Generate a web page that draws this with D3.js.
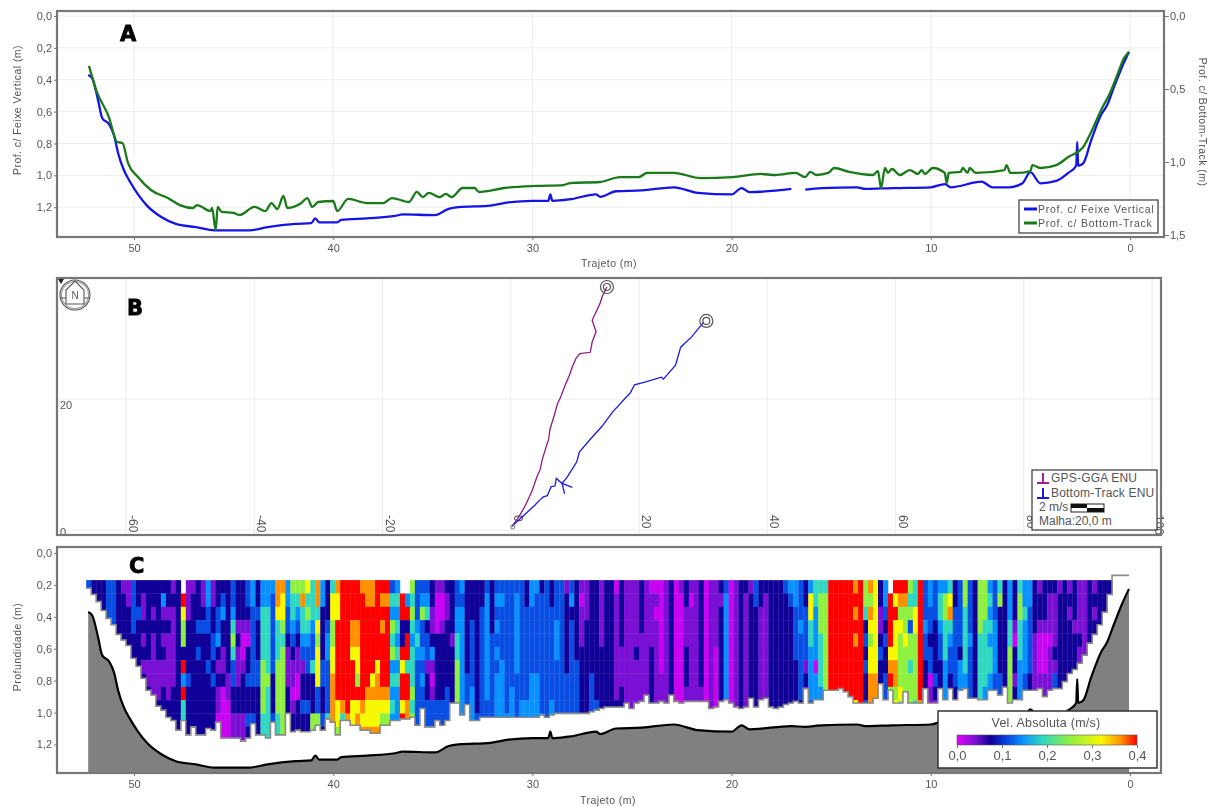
<!DOCTYPE html>
<html>
  <head>
    <meta charset="utf-8" />
    <script src="https://d3js.org/d3.v7.min.js"></script>
    <style>
      body { margin: 0; background: #fff; }
      svg { display: block; filter: blur(0.7px); }
      text { font-family: "Liberation Sans", Arial, sans-serif; fill: #555; }
      .letter { font-family: "DejaVu Sans", sans-serif; font-weight: bold; fill: #000; stroke: #000; stroke-width: 0.8px; }
    </style>
  </head>
  <body>
    <svg id="chart" width="1211" height="812"></svg>
    <script>
      // distance along the section (m), vertical beam depth (m); null = gap in the record
      var beamDist = [52.3,52.1,51.8,51.6,51.25,51.0,50.8,50.5,50.2,49.8,49.35,48.65,47.9,46.9,45.95,44.2,43.3,41.9,41.1,40.9,40.7,39.8,39.6,38.3,36.9,36.5,34.9,34.2,33.7,32.1,31.2,30.0,29.2,29.1,29.0,28.1,26.8,26.6,25.8,24.5,22.9,21.7,20.0,19.5,19.1,17.0,16.6,16.3,15.5,13.7,13.3,11.95,10.0,9.3,9.0,7.45,6.9,6.05,5.4,5.0,4.5,3.7,3.1,2.7,2.65,2.6,2.35,1.95,1.45,1.15,0.8,0.4,0.05];
      var beamDepth = [0.37,0.39,0.53,0.64,0.68,0.75,0.86,0.97,1.04,1.12,1.19,1.26,1.305,1.325,1.345,1.345,1.325,1.305,1.30,1.27,1.295,1.295,1.28,1.27,1.255,1.245,1.25,1.21,1.20,1.19,1.17,1.16,1.16,1.12,1.16,1.15,1.12,1.135,1.10,1.095,1.075,1.11,1.12,1.08,1.105,1.085,null,1.09,1.08,1.075,1.085,1.08,1.075,1.055,1.075,1.04,1.075,1.075,1.05,0.98,1.05,1.035,0.985,0.94,0.79,0.94,0.925,0.78,0.62,0.56,0.445,0.32,0.225];

      // bottom-track depth, read on the right axis
      var trackDist = [52.26,51.9,51.26,50.85,50.58,50.3,49.8,49.15,48.3,47.7,47.04,46.84,46.16,46.08,45.9,45.8,45.6,45.0,44.7,43.95,43.4,43.1,42.8,42.5,42.3,41.6,41.3,41.05,40.75,40.0,39.8,39.25,38.3,37.5,37.05,36.2,35.8,35.5,35.2,34.65,34.35,34.05,33.5,32.9,32.7,31.4,29.8,28.45,28.1,26.6,25.6,24.65,24.25,22.9,21.55,19.95,18.55,17.8,16.8,16.3,16.05,15.75,15.15,14.85,14.1,12.9,12.65,12.5,12.3,12.15,11.95,11.55,11.05,10.65,10.45,10.3,9.9,9.3,9.2,9.1,8.5,8.4,8.15,8.05,7.75,6.3,6.2,6.0,5.7,5.0,4.9,4.5,3.7,3.1,2.35,1.95,1.45,1.0,0.6,0.3,0.05];
      var trackDepth = [0.342,0.507,0.692,0.863,0.87,1.007,1.103,1.192,1.247,1.295,1.315,1.295,1.336,1.315,1.466,1.308,1.342,1.349,1.363,1.308,1.336,1.281,1.322,1.233,1.315,1.281,1.247,1.308,1.274,1.267,1.336,1.253,1.281,1.281,1.247,1.274,1.205,1.24,1.212,1.24,1.219,1.24,1.178,1.178,1.205,1.178,1.164,1.158,1.144,1.137,1.103,1.103,1.075,1.075,1.11,1.103,1.082,1.089,1.075,1.103,1.068,1.089,1.075,1.041,1.068,1.089,1.062,1.178,1.041,1.075,1.048,1.089,1.055,1.082,1.055,1.082,1.041,1.075,1.144,1.075,1.068,1.041,1.075,1.041,1.075,1.055,1.021,1.075,1.075,1.062,1.021,1.041,1.021,0.966,0.897,0.795,0.644,0.527,0.39,0.288,0.247];

      // plan view tracks, east / north (m)
      var gpsEast = [0.2,1.2,2.2,3.3,4.1,4.6,4.9,5.7,5.9,6.1,6.8,7.3,7.7,8.5,9.1,9.6,10.2,10.8,12.4,12.7,13.3,12.7,13.3,13.9,14.3,15];
      var gpsNorth = [0.1,1.5,3.2,5.6,7.9,9.0,10.5,13.1,13.6,15.2,17.5,19.3,20.1,22.2,23.6,25,26.4,27.1,27.3,28.9,30.5,32.3,33.6,34.9,36.1,37.5];
      var btEast = [0.2,1.8,3.75,4.5,5.1,5.7,6.3,6.9,7.1,8,9.6,8,8.4,8,7.4,8,8.8,10.3,10.7,12.3,14.2,15.9,18.1,18.6,19.3,21.2,23.5,23.8,25.7,26.5,28.2,30.1];
      var btNorth = [0.1,1.6,3.4,4.2,4.7,4.9,6.3,6.4,7.6,6.8,6.2,6.8,5.2,6.8,7.3,6.8,7.8,10.2,11.7,13.6,15.7,18,20.4,20.9,22.2,22.7,23.4,23.1,25.3,28.1,29.7,32];

      // colour key
      var velStops = [0,0.04,0.075,0.105,0.145,0.19,0.25,0.32,0.365,0.4];
      var colorStops = ["#e800ff","#7a10d4","#100098","#0838d8","#0890ff","#30d8c0","#90f040","#f8f800","#ff9000","#ff0000"];

      // velocity classes used in heatColumns below (digit = index), x = no data
      var velClass = [0.012,0.04,0.075,0.115,0.145,0.19,0.25,0.32,0.365,0.4];

      // one string per ensemble, top cell first; last digit carries down to the bottom
      var heatColumns = [
        "3","22","222","2222","33333","333333","2222222","12222222","11222222","333322222",
        "223222222","2112121222","2222221122","2212111111","2222221112","2412121122","2212111112","1211111122","222222222222","x9766294955",
        "111222232222","122222222222","222323222222","112322222222","443322322222","112233232222","223342121101","234221120000","222222211000","334565332211",
        "222121112211","222100122211","332102232232","443333332232","223222332222","445555666655","445555565555","433333322232","887555666655","877656666666",
        "443321112222","655432110122","654321100222","685543122322","756543322322","555433522266","885767773366","442222332232","222344333355","577667788888",
        "877999999776","999999999859",
        "999999999989","999887999777","999887769787","899999999878","889999998778","889999978778","999999788778","989899998766",
        "989999998766","354656454544","454545454444","x99229799794","x49299599888","656545556565","333454333334","346334343333","345233122333","221124101333",
        "100022222333","100122222333","211222223332","222212222233","334455666665","434444444445","222222233344","222333334444",
        "222222222233","223333333333","344444444333","222233333333","343434344444","343333444443","333333333343","333333334444","344444433333","333333333444",
        "223333333444","443333344444","433333344444","233333333344","333333333333","223333333444","333444333333","333333333333","122222233333","342333333344",
        "222222333333","101112222233","111222222233","222222233333","222222222322","111112222222",
        "222222222222","222222222222","011111111222","222221112222","111111111111","111111111122","111112111111","222211111111","111111111111","011112222222",
        "010111111111","000000011111","111111111111","222222222212","000000000000","100000000010","221112221111","101111111111","111111111122","222222221111",
        "000000000000","111111111111","111110000000","212222222211","344444444444","000000000001","111111111111","222222222222","211111111122","122222222111",
        "332222222222","221111111111","211111111221","222222222222","222222222222","222222222222","322222222222","432222222222","443333222222","333433333221",
        "223333121112","477554444334","554444044433","566655554444","566666666554","999999999999","999999999999","999999999999","999999999999","999999999999",
        "898989999778","999999999999",
        "665232322332","868767788888","777777788888","221123222233","443232233332","x99997896677","979777886777","986766667677","986676666677","656366566644",
        "557766666544","999999999888","333433222234","443323301112","333222232122","455433222123","466555444332","578543322211","223333332211","333332444222",
        "665555544443","333343333222","222222222221","666655555444","666555554444","454545544433","333444433322","562222233322","222222222211","444556666655",
        "222102212222","566555444322","445444433322","443333322221","222211111112","122100011111","222100011122","211101111112","211112133221","122222222222",
        "222222222222","121222222","222122222","111121","11111","22222","1212","222","22","2"
      ];

      // lower limit of each ensemble (m)
      var heatBottoms = [
        0.22,0.26,0.305,0.36,0.41,0.45,0.51,0.545,0.58,0.66,
        0.71,0.785,0.86,0.89,0.96,0.985,1.03,1.05,1.11,1.05,
        1.14,1.09,1.14,1.14,1.10,1.11,1.06,1.16,1.16,1.16,
        1.16,1.18,1.16,1.07,1.14,1.14,1.16,1.06,1.14,1.14,
        1.005,1.12,1.11,1.12,1.12,1.11,1.08,1.11,1.04,1.06,
        1.14,1.05,
        1.05,1.08,1.08,1.11,1.11,1.13,1.13,1.08,
        1.08,1.05,1.05,1.04,1.04,1.03,1.08,0.975,1.09,1.09,
        1.05,1.08,1.05,0.94,0.94,1.015,0.95,1.05,
        1.05,1.03,1.03,1.03,1.03,1.03,1.03,1.03,1.03,1.03,
        1.03,1.03,1.03,1.015,1.03,1.015,1.005,1.005,1.005,1.005,
        1.005,1.005,1.005,0.995,0.985,0.975,
        0.965,0.965,0.965,0.965,0.94,0.975,0.94,0.93,0.89,0.94,
        0.94,0.93,0.94,0.89,0.93,0.94,0.93,0.93,0.93,0.93,
        0.93,0.975,0.965,0.93,0.92,0.94,0.965,0.975,0.965,0.91,
        0.965,0.92,0.91,0.965,0.975,0.965,0.95,0.94,0.93,0.94,
        0.85,0.94,0.92,0.92,0.86,0.86,0.86,0.85,0.87,0.90,
        0.94,0.94,
        0.94,0.94,0.91,0.82,0.92,0.86,0.94,0.94,0.87,0.94,
        0.94,0.94,0.85,0.94,0.94,0.85,0.92,0.85,0.92,0.86,
        0.85,0.91,0.91,0.92,0.92,0.86,0.86,0.89,0.84,0.94,
        0.92,0.92,0.86,0.86,0.86,0.85,0.90,0.86,0.85,0.85,
        0.806,0.755,0.73,0.69,0.64,0.565,0.51,0.45,0.37,0.26
      ];

      var distTicks = [50,40,30,20,10,0];
      var leftDepthTicks = [0,0.2,0.4,0.6,0.8,1.0,1.2];
      var rightDepthTicks = [0,0.5,1.0,1.5];
      var planXTicks = [-60,-40,-20,0,20,40,60,80,100];
      var velTicks = [0,0.1,0.2,0.3,0.4];

      var commaFmt = (d) => d3.format(".1f")(d).replace(".", ",");
      var svg = d3.select("#chart");

      var x = d3.scaleLinear().domain([0, 50]).range([1130, 134]);
      var gridColor = "#ececec", borderColor = "#777";

      var velColor = d3.scaleLinear().domain(velStops).range(colorStops);

      function styleAxis(g) {
        g.select(".domain").remove();
        g.selectAll("line").attr("stroke", "#777");
        g.selectAll("text").attr("font-size", 11).attr("fill", "#555");
      }

      function frame(x0, y0, x1, y1) {
        svg.append("rect")
          .attr("x", x0).attr("y", y0)
          .attr("width", x1 - x0).attr("height", y1 - y0)
          .attr("fill", "none")
          .attr("stroke", borderColor)
          .attr("stroke-width", 2.2);
      }

      function axisTitle(label, px, py, rot) {
        svg.append("text")
          .attr("transform", "translate(" + px + "," + py + ") rotate(" + rot + ")")
          .attr("text-anchor", "middle")
          .attr("font-size", 10.5)
          .attr("letter-spacing", 0.45)
          .text(label);
      }

      function letter(label, px, py) {
        svg.append("text").attr("class", "letter")
          .attr("x", px).attr("y", py)
          .attr("font-size", 21)
          .text(label);
      }

      // ---------- A: depth profiles ----------
      var yA = d3.scaleLinear().domain([0, 1.387]).range([16, 237]);
      var yA2 = d3.scaleLinear().domain([0, 1.5]).range([16, 235]);

      var gridA = svg.append("g").attr("stroke", gridColor);
      gridA.selectAll(".v").data(distTicks).enter().append("line")
        .attr("x1", (d) => x(d)).attr("x2", (d) => x(d)).attr("y1", 12).attr("y2", 237);
      gridA.selectAll(".h").data(leftDepthTicks).enter().append("line")
        .attr("x1", 57).attr("x2", 1164).attr("y1", (d) => yA(d)).attr("y2", (d) => yA(d));

      var beamPts = beamDist.map((d, i) => ({ dist: d, depth: beamDepth[i] }));
      var trackPts = trackDist.map((d, i) => ({ dist: d, depth: trackDepth[i] }));

      var beamLine = d3.line().defined((d) => d.depth != null).curve(d3.curveMonotoneX)
        .x((d) => x(d.dist)).y((d) => yA(d.depth));
      var trackLine = d3.line().curve(d3.curveMonotoneX).x((d) => x(d.dist)).y((d) => yA2(d.depth));

      svg.append("path").datum(beamPts).attr("d", beamLine)
        .attr("fill", "none").attr("stroke", "#1414e6").attr("stroke-width", 2.3);
      svg.append("path").datum(trackPts).attr("d", trackLine)
        .attr("fill", "none").attr("stroke", "#1a7a1a").attr("stroke-width", 2.3);

      frame(57, 11, 1164, 237);

      svg.append("g").attr("transform", "translate(0,237)")
        .call(d3.axisBottom(x).tickValues(distTicks).tickFormat(d3.format("d")).tickSize(3).tickPadding(4))
        .call(styleAxis);
      svg.append("g").attr("transform", "translate(57,0)")
        .call(d3.axisLeft(yA).tickValues(leftDepthTicks).tickFormat(commaFmt).tickSize(3).tickPadding(2))
        .call(styleAxis);
      svg.append("g").attr("transform", "translate(1165,0)")
        .call(d3.axisRight(yA2).tickValues(rightDepthTicks).tickFormat(commaFmt).tickSize(4).tickPadding(1))
        .call(styleAxis);

      axisTitle("Trajeto (m)", 609, 267, 0);
      axisTitle("Prof. c/ Feixe Vertical (m)", 21, 110, -90);
      axisTitle("Prof. c/ Bottom-Track (m)", 1199, 122, 90);
      letter("A", 120, 41);

      var legA = svg.append("g");
      legA.append("rect").attr("x", 1019).attr("y", 200).attr("width", 139).attr("height", 33)
        .attr("fill", "#fff").attr("stroke", "#555").attr("stroke-width", 1.4);
      [["Prof. c/ Feixe Vertical", "#1414e6", 209], ["Prof. c/ Bottom-Track", "#1a7a1a", 223]].forEach((r) => {
        legA.append("line").attr("x1", 1024).attr("x2", 1037).attr("y1", r[2]).attr("y2", r[2])
          .attr("stroke", r[1]).attr("stroke-width", 3);
        legA.append("text").attr("x", 1038).attr("y", r[2] + 4)
          .attr("font-size", 10.5).attr("letter-spacing", 0.75).text(r[0]);
      });

      // ---------- B: plan view ----------
      var xB = d3.scaleLinear().domain([-60, 100]).range([126, 1152]);
      var yB = d3.scaleLinear().domain([0, 20]).range([527, 399]);

      var gridB = svg.append("g").attr("stroke", gridColor);
      gridB.selectAll(".v").data(planXTicks).enter().append("line")
        .attr("x1", (d) => xB(d)).attr("x2", (d) => xB(d)).attr("y1", 279).attr("y2", 535);
      gridB.append("line").attr("x1", 57).attr("x2", 1161).attr("y1", yB(20)).attr("y2", yB(20));
      gridB.append("line").attr("x1", 57).attr("x2", 1161).attr("y1", yB(0) + 3).attr("y2", yB(0) + 3);

      svg.selectAll(".planx").data(planXTicks).enter().append("text")
        .attr("transform", (d) => "translate(" + (xB(d) + 3) + ",515) rotate(90)")
        .attr("font-size", 12).attr("fill", "#666")
        .text((d) => d);
      svg.append("text").attr("x", 60).attr("y", 409).attr("font-size", 11).text("20");
      svg.append("text").attr("x", 60).attr("y", 536).attr("font-size", 11).text("0");

      var planLine = d3.line().x((d) => xB(d[0])).y((d) => yB(d[1]));
      svg.append("path").datum(gpsEast.map((d, i) => [d, gpsNorth[i]])).attr("d", planLine)
        .attr("fill", "none").attr("stroke", "#8e1a86").attr("stroke-width", 1.3);
      svg.append("path").datum(btEast.map((d, i) => [d, btNorth[i]])).attr("d", planLine)
        .attr("fill", "none").attr("stroke", "#1a1ae0").attr("stroke-width", 1.3);

      // start / end markers of the two tracks
      [[gpsEast[gpsEast.length - 1], gpsNorth[gpsNorth.length - 1]], [btEast[btEast.length - 1] + 0.4, btNorth[btNorth.length - 1] + 0.2]].forEach((p) => {
        [6.5, 3.5].forEach((r) => {
          svg.append("circle").attr("cx", xB(p[0])).attr("cy", yB(p[1])).attr("r", r)
            .attr("fill", "none").attr("stroke", "#555").attr("stroke-width", 1.2);
        });
      });
      svg.append("circle").attr("cx", xB(0) + 2).attr("cy", yB(0)).attr("r", 2)
        .attr("fill", "none").attr("stroke", "#777");

      frame(57, 278, 1161, 535);
      letter("B", 127, 315);

      // north arrow
      var north = svg.append("g").attr("transform", "translate(75,295)")
        .attr("fill", "none").attr("stroke", "#555").attr("stroke-width", 1.1);
      north.append("circle").attr("r", 15);
      north.append("circle").attr("r", 13.5).attr("stroke", "#999");
      north.append("path").attr("d", "M0,-14 L9,-5 V3 H15 M0,-14 L-9,-5 V3 H-15 M-9,3 V9 H9 V3");
      north.append("text").attr("y", 4).attr("text-anchor", "middle")
        .attr("font-size", 10).attr("stroke", "none").attr("fill", "#444").text("N");
      svg.append("path").attr("d", "M58,279 h6 l-3,5 z").attr("fill", "#222");

      var legB = svg.append("g");
      legB.append("rect").attr("x", 1032).attr("y", 470).attr("width", 125).attr("height", 60)
        .attr("fill", "#fff").attr("stroke", "#444").attr("stroke-width", 1.3);
      [["GPS-GGA ENU", "#a0209a", 482], ["Bottom-Track ENU", "#1a1ae0", 497]].forEach((r) => {
        legB.append("path")
          .attr("d", "M1043," + (r[2] - 9) + " V" + (r[2] + 2) + " M1037," + (r[2] + 1) + " H1049")
          .attr("stroke", r[1]).attr("stroke-width", 2).attr("fill", "none");
        legB.append("text").attr("x", 1051).attr("y", r[2]).attr("font-size", 12)
          .attr("letter-spacing", 0.2).text(r[0]);
      });
      legB.append("text").attr("x", 1039).attr("y", 511).attr("font-size", 12).text("2 m/s");
      legB.append("rect").attr("x", 1071).attr("y", 504).attr("width", 33).attr("height", 8)
        .attr("fill", "#fff").attr("stroke", "#222");
      legB.append("rect").attr("x", 1071).attr("y", 504).attr("width", 16).attr("height", 4).attr("fill", "#111");
      legB.append("rect").attr("x", 1087).attr("y", 508).attr("width", 17).attr("height", 4).attr("fill", "#111");
      legB.append("text").attr("x", 1039).attr("y", 525).attr("font-size", 12).text("Malha:20,0 m");

      // ---------- C: velocity section ----------
      var yC = d3.scaleLinear().domain([0, 1.379]).range([553, 773]);
      var rowTop = 0.17, rowH = 0.0836, colW = 0.25, firstDist = 52.4;
      var rowCount = 12;

      var cells = [];
      heatColumns.forEach((s, i) => {
        var bottom = heatBottoms[i];
        d3.range(rowCount).forEach((r) => {
          var top = rowTop + r * rowH;
          if (top >= bottom) return;
          var ch = s[Math.min(r, s.length - 1)];
          if (ch === "x") return;
          cells.push({
            dist: firstDist - i * colW,
            top: top,
            bottom: Math.min(top + rowH, bottom),
            vel: velClass[+ch],
          });
        });
      });

      var groundPts = beamPts.filter((d) => d.depth != null);
      var ground = d3.area().curve(d3.curveMonotoneX).x((d) => x(d.dist)).y0(772).y1((d) => yC(d.depth));
      svg.append("path").datum(groundPts).attr("d", ground).attr("fill", "#808080");
      svg.append("path").datum(groundPts)
        .attr("d", d3.line().curve(d3.curveMonotoneX).x((d) => x(d.dist)).y((d) => yC(d.depth)))
        .attr("fill", "none").attr("stroke", "#000").attr("stroke-width", 2.2);

      svg.append("g").selectAll("rect").data(cells).enter().append("rect")
        .attr("x", (d) => x(d.dist))
        .attr("y", (d) => yC(d.top))
        .attr("width", x(0) - x(colW) + 0.3)
        .attr("height", (d) => yC(d.bottom) - yC(d.top) + 0.3)
        .attr("fill", (d) => velColor(d.vel));

      // grey limit of the valid cells, closed by the small cap at the right bank
      var limitPts = heatBottoms.map((b, i) => [firstDist - i * colW, b]);
      limitPts.push([firstDist - heatBottoms.length * colW, 0.26]);
      limitPts.push([firstDist - heatBottoms.length * colW, 0.14]);
      limitPts.push([0.05, 0.14]);
      svg.append("path").datum(limitPts)
        .attr("d", d3.line().curve(d3.curveStepAfter).x((d) => x(d[0])).y((d) => yC(d[1])))
        .attr("fill", "none").attr("stroke", "#8a8a8a").attr("stroke-width", 1.6);

      frame(57, 547, 1161, 773);

      svg.append("g").attr("transform", "translate(0,773)")
        .call(d3.axisBottom(x).tickValues(distTicks).tickFormat(d3.format("d")).tickSize(3).tickPadding(4))
        .call(styleAxis);
      svg.append("g").attr("transform", "translate(57,0)")
        .call(d3.axisLeft(yC).tickValues(leftDepthTicks).tickFormat(commaFmt).tickSize(3).tickPadding(2))
        .call(styleAxis);

      axisTitle("Trajeto (m)", 608, 804, 0);
      axisTitle("Profundidade (m)", 21, 647, -90);
      letter("C", 129, 573);

      // colour legend
      var legC = svg.append("g");
      legC.append("rect").attr("x", 938).attr("y", 711).attr("width", 219).attr("height", 57)
        .attr("fill", "#fff").attr("stroke", "#333").attr("stroke-width", 1.5);
      legC.append("text").attr("x", 1046).attr("y", 727).attr("text-anchor", "middle")
        .attr("font-size", 12.5).attr("letter-spacing", 0.25).text("Vel. Absoluta (m/s)");

      var velX = d3.scaleLinear().domain([0, 0.4]).range([957, 1137]);
      var grad = svg.append("defs").append("linearGradient").attr("id", "velGrad");
      grad.selectAll("stop").data(velStops).enter().append("stop")
        .attr("offset", (d) => d / 0.4)
        .attr("stop-color", (d, i) => colorStops[i]);
      legC.append("rect").attr("x", velX(0)).attr("y", 735)
        .attr("width", velX(0.4) - velX(0)).attr("height", 10)
        .attr("fill", "url(#velGrad)").attr("stroke", "#555").attr("stroke-width", 0.6);
      legC.append("g").attr("transform", "translate(0,745)")
        .call(d3.axisBottom(velX).tickValues(velTicks).tickFormat(commaFmt).tickSize(3).tickPadding(3))
        .call(styleAxis)
        .selectAll("text").attr("font-size", 13);
    </script>
  </body>
</html>
